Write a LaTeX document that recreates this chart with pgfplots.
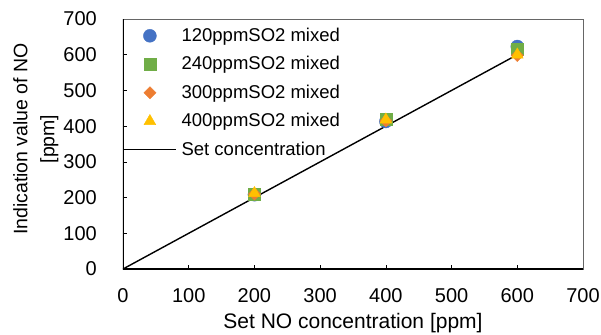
\documentclass[border=0pt]{standalone}
\usepackage{fontspec}
\setmainfont{Liberation Sans}
\usepackage{pgfplots}
\pgfplotsset{compat=1.18}
\definecolor{cblue}{HTML}{4472C4}
\definecolor{cgreen}{HTML}{70AD47}
\definecolor{corange}{HTML}{ED7D31}
\definecolor{cyellow}{HTML}{FFC000}
\begin{document}
\fontsize{18.5}{22}\selectfont
\begin{tikzpicture}
\path[use as bounding box] (-123pt,-65pt) rectangle (478pt,269pt);
\begin{axis}[
  scale only axis,
  width=460pt, height=250pt,
  xmin=0, xmax=700, ymin=0, ymax=700,
  xtick={0,100,...,700}, ytick={0,100,...,700},
  tick align=inside,
  xtick pos=bottom, ytick pos=left,
  major tick length=4pt,
  tick style={black, line width=0.6pt},
  axis line style={draw=gray!80!black, line width=0.6pt},
  /pgf/number format/assume math mode=true,
  ticklabel style={font=\fontsize{20}{24}\selectfont, inner sep=0pt},
  xticklabel style={anchor=north, yshift=-19pt},
  yticklabel style={anchor=east, xshift=-26pt},
  xlabel={Set NO concentration [ppm]},
  xlabel style={font=\fontsize{21}{25}\selectfont, inner sep=0pt,
    at={(axis description cs:0.5,-0.176)}, anchor=north},
  ylabel={Indication value of NO\\{[ppm]}},
  ylabel style={font=\fontsize{19.5}{27}\selectfont, align=center, inner sep=0pt,
    at={(axis description cs:-0.239,0.52)}, anchor=north},
  legend style={at={(0,1)}, anchor=north west, draw=none, fill=none,
    font=\fontsize{18.5}{22}\selectfont, row sep=8.3pt,
    inner xsep=0pt, inner ysep=2pt, yshift=-4.5pt,
    /tikz/every odd column/.append style={column sep=3pt}},
  legend cell align=left,
]
\addplot[only marks, mark=*, mark size=6.5pt, mark options={fill=cblue, draw=cblue},
  legend image code/.code={\draw[mark options={fill=cblue,draw=cblue}] plot coordinates {(26pt,0pt)};}]
  coordinates {(200,208) (400,413) (600,623)};
\addlegendentry{120ppmSO2 mixed}
\addplot[only marks, mark=square*, mark size=6pt, mark options={fill=cgreen, draw=cgreen},
  legend image code/.code={\draw[mark options={fill=cgreen,draw=cgreen}] plot coordinates {(26pt,0pt)};}]
  coordinates {(200,210) (400,420) (600,615)};
\addlegendentry{240ppmSO2 mixed}
\addplot[only marks, mark=square*, mark size=4.3pt, mark options={fill=corange, draw=corange, rotate=45},
  legend image code/.code={\draw[mark options={fill=corange,draw=corange,rotate=45}] plot coordinates {(26pt,0pt)};}]
  coordinates {(200,210) (400,415) (600,598)};
\addlegendentry{300ppmSO2 mixed}
\addplot[only marks, mark=triangle*, mark size=6.8pt, mark options={fill=cyellow, draw=cyellow},
  legend image code/.code={\draw[mark options={fill=cyellow,draw=cyellow}] plot coordinates {(26pt,0pt)};}]
  coordinates {(200,212) (400,418) (600,600)};
\addlegendentry{400ppmSO2 mixed}
\addplot[black, line width=1.4pt, no marks,
  legend image code/.code={\draw[black, line width=1.4pt] (0pt,0pt) -- (52pt,0pt);}]
  coordinates {(0,0) (600,600)};
\addlegendentry{Set concentration}
\draw[black, line width=1.4pt] (rel axis cs:0,1) -- (rel axis cs:0,0) -- (rel axis cs:1,0);
\end{axis}
\end{tikzpicture}
\end{document}
